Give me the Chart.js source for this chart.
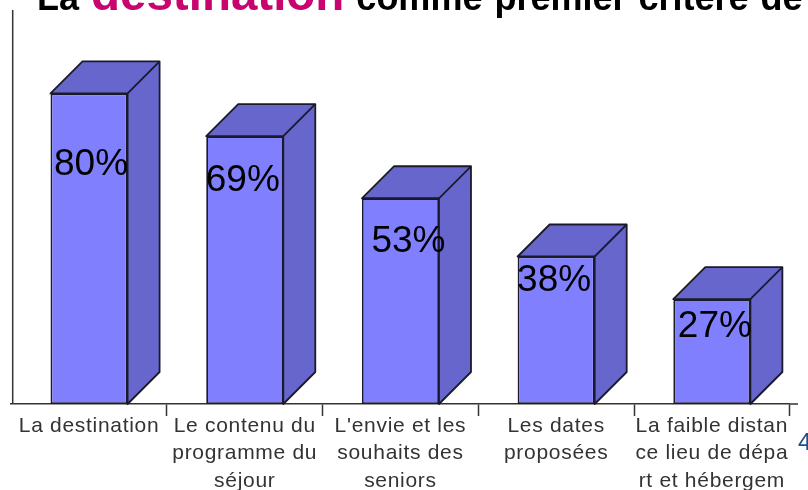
<!DOCTYPE html>
<html lang="fr">
<head>
<meta charset="utf-8">
<title>La destination comme premier critère</title>
<script src="https://cdn.jsdelivr.net/npm/chart.js@4"></script>
<style>
    html, body { margin: 0; padding: 0; background: #fff; overflow: hidden; }
    #wrap { position: relative; width: 808px; height: 490px; overflow: hidden; }
    #title {
        position: absolute; left: 37px; top: -31px; white-space: nowrap; word-spacing: 2px;
        font: bold 36px "Liberation Sans", Arial, sans-serif; color: #000; line-height: 50px;
    }
    #title span { color: #c8056e; font-size: 47.5px; }
    #pageNo {
        position: absolute; left: 798px; top: 428px;
        font: 24px "Liberation Sans", Arial, sans-serif; color: #1f4e8c;
    }
</style>
</head>
<body>
<div id="wrap">
    <canvas id="myChart" width="808" height="490"></canvas>
    <div id="title">La <span>destination</span> comme premier critère de</div>
    <div id="pageNo">4</div>
</div>
<script>
const categories = [
    'La destination',
    ['Le contenu du', 'programme du', 'séjour'],
    ["L'envie et les", 'souhaits des', 'seniors'],
    ['Les dates', 'proposées'],
    ['La faible distan', 'ce lieu de dépa', 'rt et hébergem']
];
const percentages = [80, 69, 53, 38, 27];

// hand placed labels in the original, so offsets from the top of each bar
const labelNudgeX = [2, -2, 8, -2, 3];
const labelNudgeY = [71.5, 44.5, 44, 24, 28];

const depth = 32;
const frontColor = '#8080ff';
const sideColor = '#6666cc';
const lineColor = '#1a1a2a';
const axisX = 12.7;

// side and top faces of the boxes, plus the percent labels
const boxes = {
    id: 'boxes',
    beforeDraw(chart) {
        chart.ctx.letterSpacing = '0.7px'; // tick labels are wider than the font
    },
    afterDatasetsDraw(chart) {
        const ctx = chart.ctx;
        const bars = chart.getDatasetMeta(0).data;
        ctx.save();
        ctx.letterSpacing = '0px';
        ctx.lineWidth = 1.8;
        ctx.strokeStyle = lineColor;
        ctx.fillStyle = sideColor;
        ctx.lineJoin = 'round';
        bars.forEach(bar => {
            const left = bar.x - bar.width / 2;
            const right = bar.x + bar.width / 2;
            ctx.beginPath();
            ctx.moveTo(left, bar.y);
            ctx.lineTo(left + depth, bar.y - depth);
            ctx.lineTo(right + depth, bar.y - depth);
            ctx.lineTo(right + depth, bar.base - depth);
            ctx.lineTo(right, bar.base);
            ctx.lineTo(right, bar.y);
            ctx.closePath();
            ctx.fill();
            ctx.stroke();
            ctx.beginPath();
            ctx.moveTo(right, bar.y);
            ctx.lineTo(right + depth, bar.y - depth);
            ctx.stroke();
        });
        ctx.fillStyle = '#000';
        ctx.font = '37px "Liberation Sans", Arial, sans-serif';
        ctx.textAlign = 'center';
        ctx.textBaseline = 'middle';
        bars.forEach((bar, i) => {
            ctx.fillText(percentages[i] + '%', bar.x + labelNudgeX[i], bar.y + labelNudgeY[i]);
        });
        // left axis sits just inside the first category, bottom axis runs past the last tick
        const area = chart.chartArea;
        ctx.strokeStyle = '#333';
        ctx.lineWidth = 1.5;
        ctx.beginPath();
        ctx.moveTo(axisX, area.top);
        ctx.lineTo(axisX, area.bottom);
        ctx.moveTo(area.right, area.bottom);
        ctx.lineTo(798, area.bottom);
        ctx.stroke();
        ctx.restore();
    }
};

new Chart(document.getElementById('myChart').getContext('2d'), {
    type: 'bar',
    data: {
        labels: categories,
        datasets: [{
            data: percentages,
            backgroundColor: frontColor,
            borderColor: lineColor,
            borderWidth: 1.8,
            borderSkipped: false,
            categoryPercentage: 0.495,
            barPercentage: 1
        }]
    },
    options: {
        responsive: false,
        animation: false,
        layout: { padding: { left: 11.2, right: 18.3, top: 10, bottom: 0 } },
        plugins: { legend: { display: false }, tooltip: { enabled: false } },
        scales: {
            x: {
                afterFit: scale => { scale.height = 86; },
                border: { color: '#333', width: 1.5 },
                grid: {
                    drawOnChartArea: false,
                    tickLength: 12,
                    tickWidth: 1.5,
                    color: ctx => ctx.index === 0 ? 'transparent' : '#333'
                },
                ticks: {
                    autoSkip: false,
                    maxRotation: 0,
                    padding: -3,
                    color: '#333',
                    font: { family: '"Liberation Sans", Arial, sans-serif', size: 21, lineHeight: 1.29 }
                }
            },
            y: {
                min: 0,
                max: 101.5,
                afterFit: scale => { scale.width = 0; },
                border: { display: false },
                grid: { display: false },
                ticks: { display: false }
            }
        }
    },
    plugins: [boxes]
});
</script>
</body>
</html>
